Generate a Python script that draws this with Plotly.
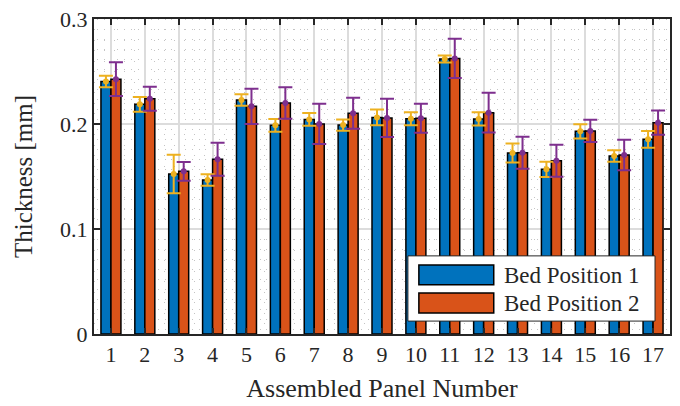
import numpy as np
import plotly.graph_objects as go

panels = list(range(1, 18))
bed1 = [0.2405, 0.2187, 0.1524, 0.1467, 0.2229, 0.1987, 0.2044, 0.1990, 0.2063, 0.2050,
        0.2619, 0.2048, 0.1724, 0.1568, 0.1930, 0.1695, 0.1854]
bed1_err = [0.0055, 0.0070, 0.0184, 0.0055, 0.0054, 0.0060, 0.0060, 0.0054, 0.0075, 0.0063,
            0.0033, 0.0063, 0.0090, 0.0073, 0.0067, 0.0054, 0.0080]
bed2 = [0.2427, 0.2241, 0.1549, 0.1665, 0.2168, 0.2200, 0.2001, 0.2103, 0.2058, 0.2055,
        0.2625, 0.2108, 0.1727, 0.1650, 0.1934, 0.1705, 0.2013]
bed2_err = [0.0160, 0.0114, 0.0090, 0.0157, 0.0168, 0.0150, 0.0191, 0.0148, 0.0182, 0.0138,
            0.0187, 0.0190, 0.0152, 0.0152, 0.0106, 0.0145, 0.0115]
series_names = ["Bed Position 1", "Bed Position 2"]
y_ticks = [0, 0.1, 0.2, 0.3]
y_ticklabels = ["0", "0.1", "0.2", "0.3"]

BLUE = "#0072BD"
ORANGE = "#D95319"
GOLD = "#EDB120"
PURPLE = "#7E2F8E"
FONT = "'Liberation Serif', 'DejaVu Serif', serif"
TXT = "#262626"

bargap = 0.41
half = (1 - bargap) / 4.0
x = np.array(panels, dtype=float)

fig = go.Figure()
fig.add_trace(go.Bar(x=x, y=bed1, name=series_names[0], marker=dict(color=BLUE, line=dict(color="black", width=1.5)), showlegend=False))
fig.add_trace(go.Bar(x=x, y=bed2, name=series_names[1], marker=dict(color=ORANGE, line=dict(color="black", width=1.5)), showlegend=False))
fig.add_trace(go.Scatter(x=x - half, y=bed1, mode="markers",
                         marker=dict(color=GOLD, size=6),
                         error_y=dict(type="data", array=bed1_err, color=GOLD, thickness=2, width=7),
                         showlegend=False))
fig.add_trace(go.Scatter(x=x + half, y=bed2, mode="markers",
                         marker=dict(color=PURPLE, size=6),
                         error_y=dict(type="data", array=bed2_err, color=PURPLE, thickness=2, width=7),
                         showlegend=False))

fig.update_layout(
    width=680, height=406,
    margin=dict(l=94, r=10, t=19, b=72),
    paper_bgcolor="white", plot_bgcolor="white",
    barmode="group", bargap=bargap, bargroupgap=0,
    font=dict(family=FONT, color=TXT, size=22),
)
fig.update_xaxes(
    range=[0.5, 17.5], tickvals=panels, ticktext=[str(p) for p in panels],
    showline=True, mirror="ticks", linecolor=TXT, linewidth=2,
    ticks="inside", ticklen=6, tickcolor=TXT, tickwidth=2,
    showgrid=True, gridcolor="#dcdcdc", gridwidth=1.5,
    minor=dict(tick0=0, dtick=0.2, showgrid=True, gridcolor="#c4c4c4", griddash="1px,9px", gridwidth=1),
    tickfont=dict(size=22, family=FONT, color=TXT),
    title=dict(text="Assembled Panel Number", font=dict(size=26, family=FONT, color=TXT), standoff=12),
    zeroline=False, automargin=False,
)
fig.update_yaxes(
    range=[0, 0.3], tickvals=y_ticks, ticktext=y_ticklabels,
    showline=True, mirror="ticks", linecolor=TXT, linewidth=2,
    ticks="inside", ticklen=6, tickcolor=TXT, tickwidth=2,
    showgrid=True, gridcolor="#dcdcdc", gridwidth=1.5,
    minor=dict(tick0=0, dtick=0.01, showgrid=True, gridcolor="#c4c4c4", griddash="1px,9px", gridwidth=1),
    tickfont=dict(size=22, family=FONT, color=TXT),
    title=dict(text="Thickness [mm]", font=dict(size=25, family=FONT, color=TXT), standoff=20),
    zeroline=False, automargin=False,
)

# legend drawn manually (wide swatches like the original)
lx0, lx1, ly0, ly1 = 0.545, 0.974, 0.041, 0.248
fig.add_shape(type="rect", xref="paper", yref="paper", x0=lx0, x1=lx1, y0=ly0, y1=ly1,
              fillcolor="white", line=dict(color=TXT, width=1))
swatches = [(BLUE, 0.219, 0.156, 0.187), (ORANGE, 0.130, 0.067, 0.098)]
for (col, ya, yb, yc), name in zip(swatches, series_names):
    fig.add_shape(type="rect", xref="paper", yref="paper", x0=0.564, x1=0.694, y0=yb, y1=ya,
                  fillcolor=col, line=dict(color="black", width=1.5))
    fig.add_annotation(xref="paper", yref="paper", x=0.708, y=yc, text=name, showarrow=False,
                       xanchor="left", yanchor="middle", font=dict(size=23, family=FONT, color=TXT))

fig.write_html("out.html")
